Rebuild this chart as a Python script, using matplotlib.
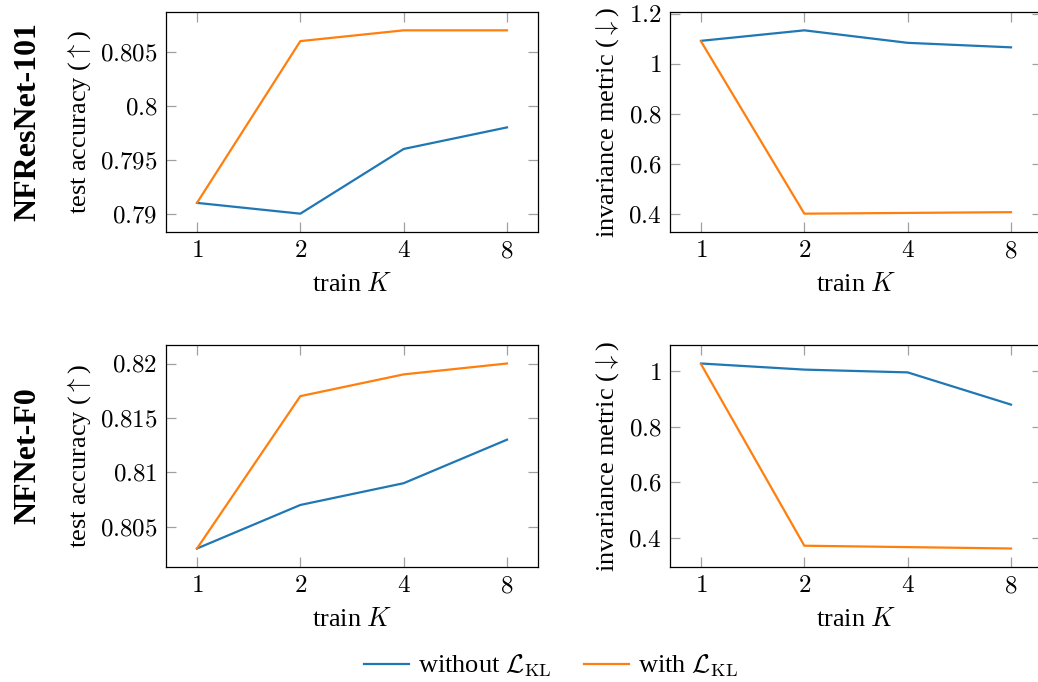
import numpy as np
import matplotlib
matplotlib.use("Agg")
import matplotlib.pyplot as plt
from matplotlib.lines import Line2D

plt.rcParams['font.family'] = ['Liberation Serif', 'DejaVu Serif']
plt.rcParams['mathtext.fontset'] = 'cm'

train_k = ['1', '2', '4', '8']
models = ['NFResNet-101', 'NFNet-F0']

# test accuracy
acc_without = [[0.791, 0.790, 0.796, 0.798],
               [0.803, 0.807, 0.809, 0.813]]
acc_with = [[0.791, 0.806, 0.807, 0.807],
            [0.803, 0.817, 0.819, 0.820]]
acc_ticks = [[0.79, 0.795, 0.80, 0.805],
             [0.805, 0.81, 0.815, 0.82]]
acc_ticklabels = [['0.79', '0.795', '0.8', '0.805'],
                  ['0.805', '0.81', '0.815', '0.82']]

# invariance metric
inv_without = [[1.092, 1.134, 1.084, 1.066],
               [1.027, 1.005, 0.995, 0.879]]
inv_with = [[1.090, 0.401, 0.404, 0.407],
            [1.025, 0.371, 0.366, 0.361]]
inv_ticks = [[0.4, 0.6, 0.8, 1.0, 1.2],
             [0.4, 0.6, 0.8, 1.0]]
inv_ticklabels = [['0.4', '0.6', '0.8', '1', '1.2'],
                  ['0.4', '0.6', '0.8', '1']]

blue = '#1f77b4'
orange = '#ff7f0e'
W, H = 1038, 682

fig = plt.figure(figsize=(W / 100, H / 100), dpi=100)


def make_ax(x0, y0, x1, y1):
    return fig.add_axes([x0 / W, 1 - y1 / H, (x1 - x0) / W, (y1 - y0) / H])


def style(ax, ys, ticks, labels, ylabel):
    x = np.arange(len(train_k))
    lo = min(min(s) for s in ys)
    hi = max(max(s) for s in ys)
    pad = 0.1 * (hi - lo)
    ax.set_ylim(lo - pad, hi + pad)
    ax.set_xlim(-0.3, 3.3)
    ax.set_xticks(x)
    ax.set_xticklabels(['$%s$' % k for k in train_k], fontsize=18)
    ax.set_yticks(ticks)
    ax.set_yticklabels(['$%s$' % t for t in labels], fontsize=18)
    ax.tick_params(direction='in', length=7, width=0.9, color='#a0a0a0',
                   top=True, right=True, pad=6)
    for s in ax.spines.values():
        s.set_linewidth(0.9)
    ax.set_xlabel(r'train $K$', fontsize=19, labelpad=8)
    ax.set_ylabel(ylabel, fontsize=19, labelpad=5)


rows = [(12, 232), (345, 567)]
for i, (y0, y1) in enumerate(rows):
    x = np.arange(len(train_k))
    ax1 = make_ax(166, y0, 538, y1)
    ax1.plot(x, acc_without[i], color=blue, lw=1.6)
    ax1.plot(x, acc_with[i], color=orange, lw=1.6)
    style(ax1, [acc_without[i], acc_with[i]], acc_ticks[i], acc_ticklabels[i],
          r'test accuracy ($\uparrow$)')

    ax2 = make_ax(670, y0, 1042, y1)
    ax2.plot(x, inv_without[i], color=blue, lw=1.6)
    ax2.plot(x, inv_with[i], color=orange, lw=1.6)
    style(ax2, [inv_without[i], inv_with[i]], inv_ticks[i], inv_ticklabels[i],
          r'invariance metric ($\downarrow$)')

    fig.text(28 / W, 1 - (y0 + y1) / 2 / H, models[i], rotation=90,
             fontsize=23, fontweight='bold', ha='center', va='center')

handles = [Line2D([], [], color=blue, lw=1.6),
           Line2D([], [], color=orange, lw=1.6)]
fig.legend(handles, [r'without $\mathcal{L}_{\mathrm{KL}}$',
                     r'with $\mathcal{L}_{\mathrm{KL}}$'],
           loc='center', bbox_to_anchor=(551 / W, 1 - 666 / H), ncol=2,
           frameon=False, fontsize=19, handlelength=1.7, columnspacing=1.2,
           handletextpad=0.35)

fig.savefig('out.png', dpi=100)
